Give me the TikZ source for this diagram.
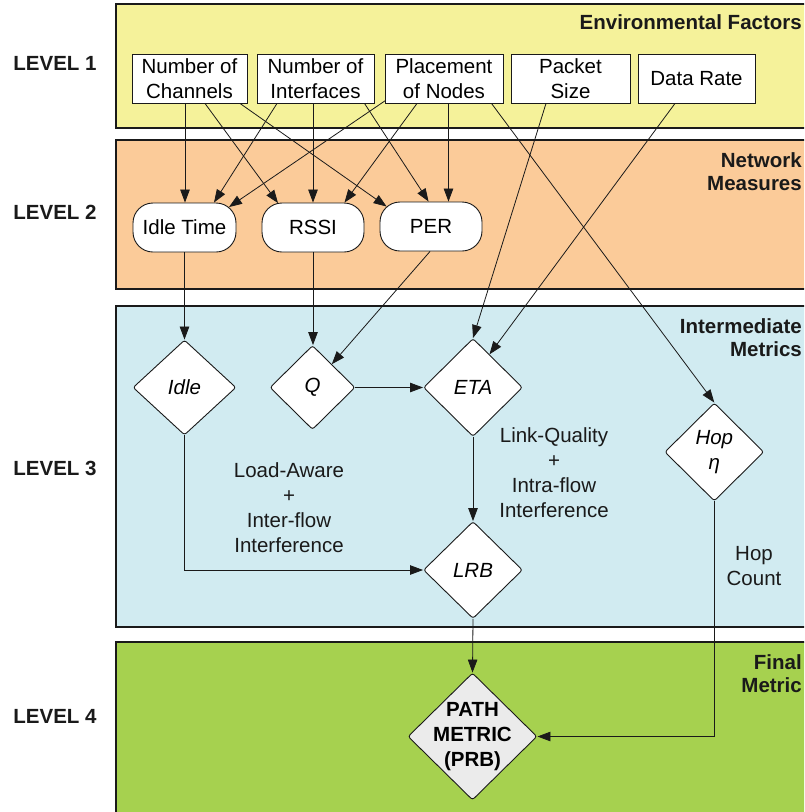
\documentclass[tikz,border=0pt]{standalone}
\usepackage{fontspec}
\setmainfont{Liberation Sans}
\usetikzlibrary{shapes.geometric,arrows.meta,calc}
\definecolor{bandY}{HTML}{F5F29A}
\definecolor{bandO}{HTML}{FBCB99}
\definecolor{bandB}{HTML}{D1EBF1}
\definecolor{bandG}{HTML}{A6D14F}
\definecolor{pathgray}{HTML}{EBEBEB}
\definecolor{edge}{HTML}{1A1A1A}
\newcommand{\nfs}{\fontsize{20.5}{25}\selectfont}
\newcommand{\tfs}{\fontsize{20.5}{23.5}\selectfont}
\begin{document}
\begin{tikzpicture}[x=1pt,y=-1pt,
  band/.style={draw=edge, line width=1.2pt},
  factor/.style={draw=edge, line width=0.9pt, fill=white, rectangle, minimum width=117pt, minimum height=49pt, inner sep=0pt, align=center, font=\nfs},
  measure/.style={draw=edge, line width=0.9pt, fill=white, rectangle, rounded corners=20pt, minimum width=103pt, minimum height=49pt, inner sep=0pt, align=center, font=\nfs},
  metric/.style={draw=edge, line width=0.9pt, fill=white, diamond, rounded corners=2.5pt, inner sep=0pt, align=center, font=\nfs\itshape},
  arr/.style={-{Triangle[length=13pt,width=9.5pt]}, line width=0.8pt, draw=edge},
  level/.style={font=\bfseries\nfs, text=edge},
  ttl/.style={font=\bfseries\tfs, align=right, inner sep=0pt, text=edge},
  lbl/.style={font=\nfs, align=center, inner sep=0pt, text=edge}]
\useasboundingbox (0,0) rectangle (804,812);
\clip (0,0) rectangle (804,812);
% bands
\draw[band, fill=bandY] (116,4) rectangle (830,128);
\draw[band, fill=bandO] (116,140) rectangle (830,289);
\draw[band, fill=bandB] (116,306) rectangle (830,627);
\draw[band, fill=bandG] (116,642) rectangle (830,840);
% level labels
\node[level] (lv1) at (55,63) {LEVEL 1};
\node[level] (lv2) at (55,212) {LEVEL 2};
\node[level] (lv3) at (55,468) {LEVEL 3};
\node[level] (lv4) at (55,716) {LEVEL 4};
% band titles
\node[ttl, anchor=base east] (t1) at (802,29.4) {Environmental Factors};
\node[ttl, anchor=north east] (t2) at (802,152.3) {Network\\Measures};
\node[ttl, anchor=north east] (t3) at (802,318.3) {Intermediate\\Metrics};
\node[ttl, anchor=north east] (t4) at (802,654.3) {Final\\Metric};
% level 1
\node[factor, minimum width=115pt] (ch) at (189.5,78.5) {Number of\\Channels};
\node[factor] (if) at (315.5,78.5) {Number of\\Interfaces};
\node[factor, minimum width=118pt] (pl) at (444,78.5) {Placement\\of Nodes};
\node[factor, minimum width=119pt] (ps) at (570.5,78.5) {Packet\\Size};
\node[factor] (dr) at (696.5,78.5) {Data Rate};
% level 2
\node[measure] (it) at (184.5,227.5) {Idle Time};
\node[measure, minimum width=102pt] (rs) at (313,227.5) {RSSI};
\node[measure, minimum width=102pt] (pe) at (431,226.5) {PER};
% level 3
\node[metric, minimum width=103pt, minimum height=95pt] (di) at (184.5,387.5) {Idle};
\node[metric, minimum width=85pt, minimum height=84pt] (dq) at (312.5,387.5) {Q};
\node[metric, minimum width=99pt, minimum height=98pt] (de) at (473,387.5) {ETA};
\node[metric, minimum width=99pt, minimum height=98pt] (dh) at (714.3,452) {Hop\\η};
\node[metric, minimum width=99pt, minimum height=97pt] (dl) at (473,570) {LRB};
% level 4
\node[metric, fill=pathgray, font=\nfs\bfseries, inner sep=-25pt, minimum width=129pt, minimum height=127pt] (dp) at (472.5,736.5) {PATH\\METRIC\\(PRB)};
% labels
\node[lbl] (la) at (289,507.5) {Load-Aware\\+\\Inter-flow\\Interference};
\node[lbl] (lq) at (554,472.5) {Link-Quality\\+\\Intra-flow\\Interference};
\node[lbl] (hc) at (754,566) {Hop\\Count};
% level 1 -> level 2
\draw[arr] ([xshift=-4.5pt]ch.south) -- ([xshift=0.5pt]it.north);
\draw[arr] ([xshift=15.5pt]ch.south) -- ([xshift=-35pt,yshift=-0.5pt]rs.north);
\draw[arr] ([xshift=50.5pt]ch.south) -- ([xshift=-44.4pt,yshift=-5pt]pe.north);
\draw[arr] ([xshift=-38.5pt]if.south) -- ([xshift=29.5pt]it.north);
\draw[arr] ([xshift=-2.5pt]if.south) -- (rs.north);
\draw[arr] ([xshift=49pt]if.south) -- ([xshift=-2.4pt]pe.north);
\draw[arr] ([xshift=1pt,yshift=3pt]pl.south west) -- ([xshift=44.5pt,yshift=-4.5pt]it.north);
\draw[arr] ([xshift=-27pt]pl.south) -- ([xshift=31.5pt]rs.north);
\draw[arr] ([xshift=4.5pt]pl.south) -- ([xshift=17.5pt]pe.north);
\draw[arr] ([xshift=47.5pt]pl.south) -- (dh.north);
\draw[arr] ([xshift=-24.5pt]ps.south) -- (de.north);
\draw[arr] ([xshift=-21.5pt]dr.south) -- ($(de.north)!0.33!(de.east)$);
% level 2 -> level 3
\draw[arr] (it.south) -- (di.north);
\draw[arr] (rs.south) -- (rs.south |- dq.north);
\draw[arr] ([xshift=-1pt]pe.south) -- ($(dq.north)!0.45!(dq.east)$);
\draw[arr] (dq.east) -- (de.west);
\draw[arr] (de.south) -- (dl.north);
\draw[arr] (di.south) |- (dl.west);
% level 3 -> level 4
\draw[arr] (dl.south) -- (dp.north);
\draw[arr] (dh.south) |- (dp.east);
\end{tikzpicture}
\end{document}
